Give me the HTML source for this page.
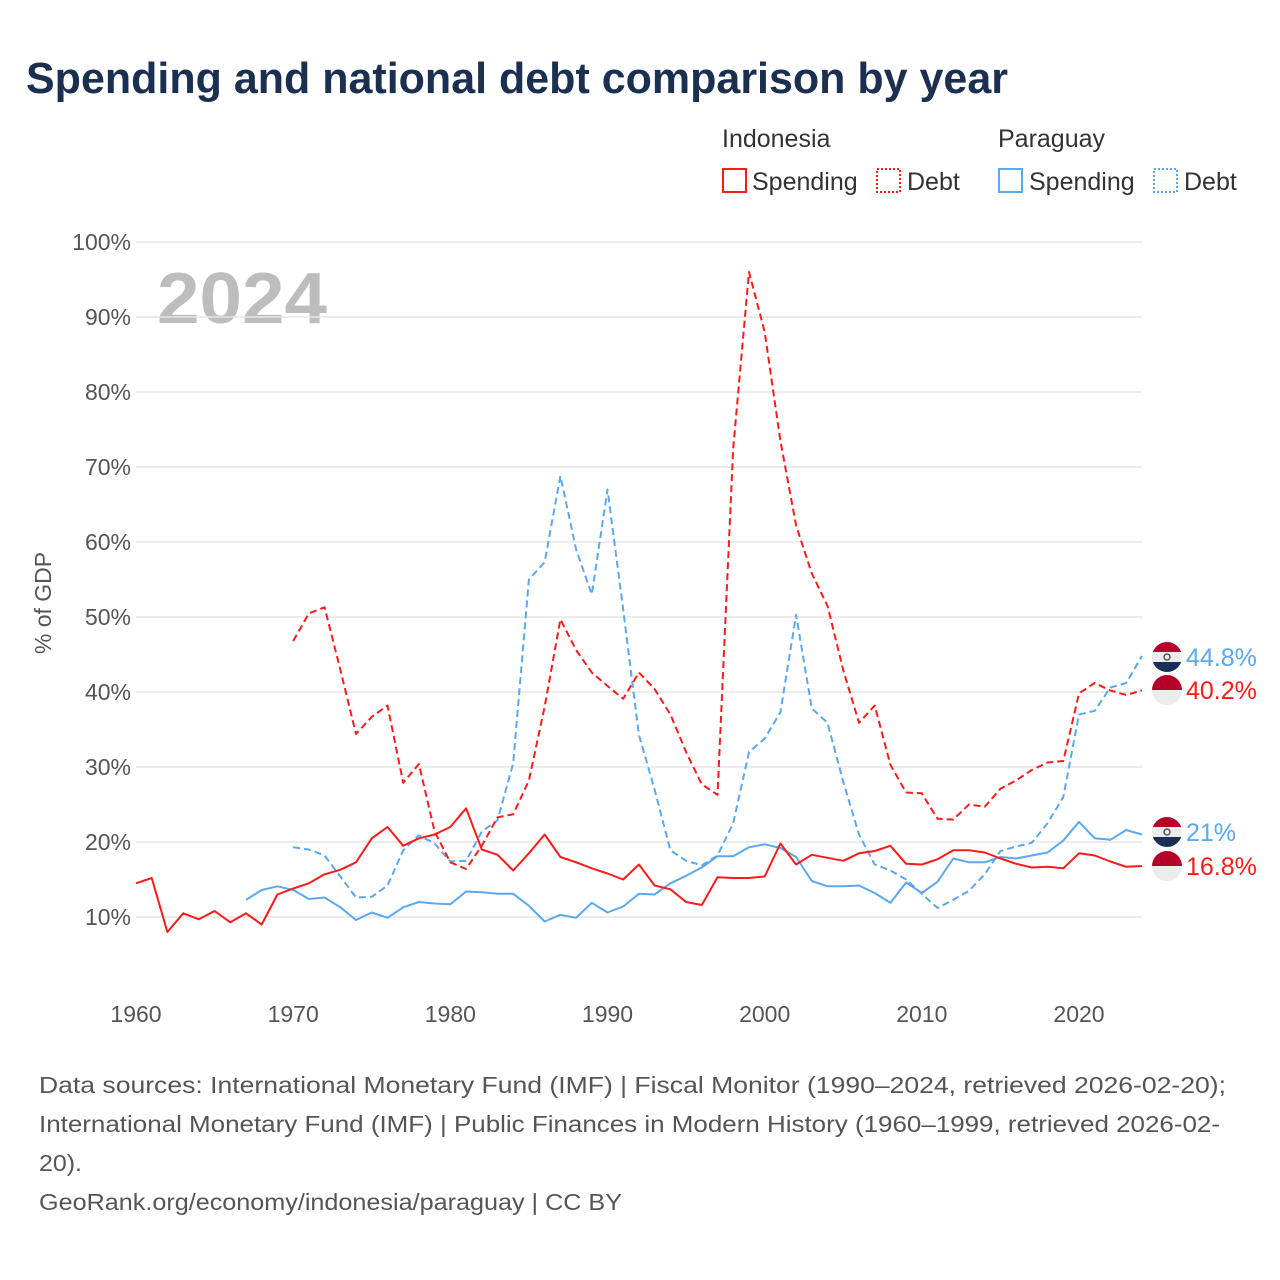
<!DOCTYPE html>
<html><head><meta charset="utf-8"><style>
body{margin:0;background:#fff;font-family:"Liberation Sans",sans-serif;}
#wrap{position:relative;width:1280px;height:1280px;overflow:hidden;background:#fff}
</style></head><body>
<div id="wrap">
<svg id="chart" width="1280" height="1280" style="position:absolute;left:0;top:0">
<text x="26" y="93" font-size="44" font-weight="bold" fill="#1b3050" textLength="982" lengthAdjust="spacingAndGlyphs">Spending and national debt comparison by year</text>
<g font-size="25" fill="#333">
<text x="722" y="147">Indonesia</text>
<text x="998" y="147">Paraguay</text>
<g><rect x="723" y="169" width="23" height="23" fill="none" stroke="#ff1a1a" stroke-width="2"/><text x="752" y="190">Spending</text></g>
<g><rect x="877" y="169" width="23" height="23" fill="none" stroke="#ff1a1a" stroke-width="2" stroke-dasharray="2,2"/><text x="907" y="190">Debt</text></g>
<g><rect x="999" y="169" width="23" height="23" fill="none" stroke="#5aa8ee" stroke-width="2"/><text x="1029" y="190">Spending</text></g>
<g><rect x="1154" y="169" width="23" height="23" fill="none" stroke="#5aa8ee" stroke-width="2" stroke-dasharray="2,2"/><text x="1184" y="190">Debt</text></g>
</g>
<text x="157" y="323" font-size="72" font-weight="bold" fill="#bdbdbd" textLength="170" lengthAdjust="spacingAndGlyphs">2024</text>
<text transform="translate(51,603) rotate(-90)" text-anchor="middle" font-size="23" fill="#555">% of GDP</text>
<g id="grid"></g><g id="xt"></g><g id="lines"></g><g id="ends"></g>
<g font-size="23" fill="#555">
<text x="39" y="1093" textLength="1187" lengthAdjust="spacingAndGlyphs">Data sources: International Monetary Fund (IMF) | Fiscal Monitor (1990–2024, retrieved 2026-02-20);</text>
<text x="39" y="1132" textLength="1181" lengthAdjust="spacingAndGlyphs">International Monetary Fund (IMF) | Public Finances in Modern History (1960–1999, retrieved 2026-02-</text>
<text x="39" y="1171" textLength="43" lengthAdjust="spacingAndGlyphs">20).</text>
<text x="39" y="1210" textLength="583" lengthAdjust="spacingAndGlyphs">GeoRank.org/economy/indonesia/paraguay | CC BY</text>
</g>
</svg></div>
<script>
const yTicks=[10,20,30,40,50,60,70,80,90,100];
const xTicks=[1960,1970,1980,1990,2000,2010,2020];
const idnSpendStart=1960;
const idnSpend=[14.5,15.2,8,10.5,9.7,10.8,9.3,10.5,9,13,13.8,14.5,15.7,16.3,17.3,20.5,22,19.5,20.5,21,22,24.5,19,18.3,16.2,18.5,21,18,17.3,16.5,15.8,15,17,14.2,13.7,12,11.6,15.3,15.2,15.2,15.4,19.8,17,18.3,17.9,17.5,18.5,18.8,19.5,17.1,17,17.7,18.9,18.9,18.6,17.8,17.1,16.6,16.7,16.5,18.5,18.2,17.4,16.7,16.8];
const idnDebtStart=1970;
const idnDebt=[46.8,50.5,51.3,43,34.4,36.7,38.2,27.9,30.4,21.4,17.3,16.4,19.5,23.3,23.7,28.2,38,49.7,45.6,42.6,40.8,39.1,42.6,40.4,37,32,27.7,26.3,72.5,96,88,73.5,62.2,55.8,51.5,42.9,35.9,38.2,30.3,26.6,26.5,23.1,23,25,24.7,27.1,28.2,29.6,30.6,30.8,39.8,41.2,40.2,39.6,40.2];
const pryStart=1967;
const prySpend=[12.3,13.6,14.1,13.6,12.4,12.6,11.3,9.6,10.6,9.9,11.3,12,11.8,11.7,13.4,13.3,13.1,13.1,11.5,9.4,10.3,9.9,11.9,10.6,11.4,13.1,13,14.5,15.5,16.6,18.1,18.1,19.3,19.7,19.2,18,14.8,14.1,14.1,14.2,13.2,11.9,14.6,13.2,14.7,17.8,17.3,17.3,18,17.8,18.2,18.6,20.2,22.7,20.5,20.3,21.6,21];
const pryDebtStart=1970;
const pryDebt=[19.3,19,18.2,15.4,12.6,12.7,14.2,18.9,20.9,19.8,17.4,17.5,21.4,22.9,30.5,55,57.3,68.8,59,53,67,51,34.3,27,18.9,17.5,16.9,18.2,22.5,32,33.8,37.3,50.3,37.8,35.9,28,21,17,16.2,15,13.1,11.2,12.3,13.5,15.7,18.8,19.4,19.9,22.5,26,37,37.5,40.6,41.2,44.8];

const NS="http://www.w3.org/2000/svg";
const X=y=>136+(y-1960)*(943/60);
const Y=v=>917-(v-10)*7.5;
function mk(tag,attrs,parent){const e=document.createElementNS(NS,tag);for(const k in attrs)e.setAttribute(k,attrs[k]);parent.appendChild(e);return e;}
const grid=document.getElementById('grid');
yTicks.forEach(t=>{
  const l=mk('line',{x1:136,x2:1142,y1:Y(t),y2:Y(t),stroke:'#e6e6e6','stroke-width':1.5},grid);
  
  
  const tx=mk('text',{x:131,y:Y(t)+8,'text-anchor':'end','font-size':23,fill:'#555'},grid);
  tx.textContent=t+'%';
  
  
});
const xt=document.getElementById('xt');
xTicks.forEach(t=>{
  const tx=mk('text',{x:X(t),y:1022,'text-anchor':'middle','font-size':23,fill:'#555'},xt);
  tx.textContent=t;
  
  
});
const lines=document.getElementById('lines');
function series(arr,start,color,dash,name){
  const d=arr.map((v,i)=>(i?'L':'M')+X(start+i).toFixed(1)+','+Y(v).toFixed(1)).join('');
  const p=mk('path',{d:d,fill:'none',stroke:color,'stroke-width':2,'stroke-linejoin':'round'},lines);
  if(dash)p.setAttribute('stroke-dasharray','7,4');
  
  
}
series(pryDebt,pryDebtStart,'#5aa8ee',true,'paraguay-debt-line');
series(prySpend,pryStart,'#5aa8ee',false,'paraguay-spending-line');
series(idnDebt,idnDebtStart,'#ff1a1a',true,'indonesia-debt-line');
series(idnSpend,idnSpendStart,'#ff1a1a',false,'indonesia-spending-line');
const ends=document.getElementById('ends');
function flag(cy,country,label,color,name){
  const g=mk('g',{},ends);
  
  
  const cx=1167,r=15;
  if(country==='idn'){
    mk('path',{d:`M${cx-r},${cy} A${r},${r} 0 0 1 ${cx+r},${cy} Z`,fill:'#b5002a'},g);
    mk('path',{d:`M${cx-r},${cy} A${r},${r} 0 0 0 ${cx+r},${cy} Z`,fill:'#ececec'},g);
  } else {
    const cp=mk('clipPath',{id:'c'+name},g);
    mk('circle',{cx:cx,cy:cy,r:r},cp);
    const gg=mk('g',{'clip-path':'url(#c'+name+')'},g);
    mk('rect',{x:cx-r,y:cy-r,width:2*r,height:10,fill:'#b5002a'},gg);
    mk('rect',{x:cx-r,y:cy-5,width:2*r,height:10,fill:'#ececec'},gg);
    mk('rect',{x:cx-r,y:cy+5,width:2*r,height:10,fill:'#1a2f55'},gg);
    mk('circle',{cx:cx,cy:cy,r:3,fill:'none',stroke:'#555','stroke-width':1.5},gg);
  }
  const t=mk('text',{x:1186,y:cy+9,'font-size':25,fill:color},g);
  t.textContent=label;
}
flag(657,'pry','44.8%','#5aa8ee','end-label-paraguay-debt');
flag(690,'idn','40.2%','#ff1a1a','end-label-indonesia-debt');
flag(832,'pry','21%','#5aa8ee','end-label-paraguay-spending');
flag(866,'idn','16.8%','#ff1a1a','end-label-indonesia-spending');
</script>
</body></html>
